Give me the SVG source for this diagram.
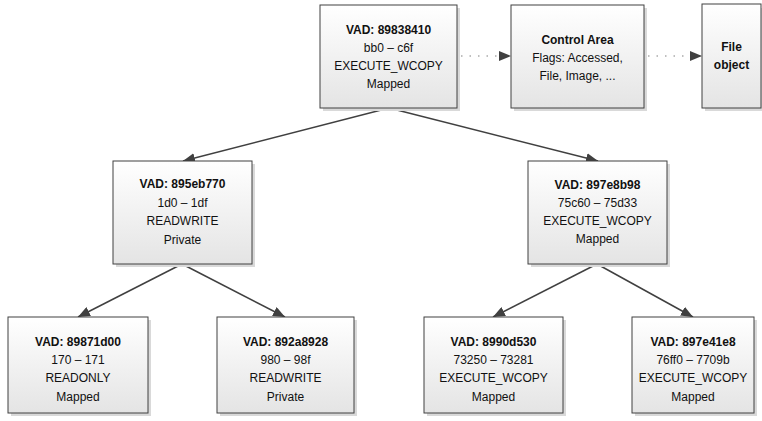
<svg xmlns="http://www.w3.org/2000/svg" width="762" height="421" viewBox="0 0 762 421">
<defs>
  <linearGradient id="g" x1="0" y1="0" x2="0" y2="1">
    <stop offset="0" stop-color="#ffffff"/>
    <stop offset="1" stop-color="#e4e4e4"/>
  </linearGradient>
  <marker id="ah" viewBox="0 0 12 10" refX="12" refY="5" markerWidth="12" markerHeight="10" markerUnits="userSpaceOnUse" orient="auto">
    <path d="M0,0 L12,5 L0,10 Z" fill="#404040"/>
  </marker>
  <style>
    .box{fill:url(#g);stroke:#404040;stroke-width:1}
    .sh{fill:#d9d9d9}
    text{font-family:"Liberation Sans",Arial,sans-serif;font-size:12px;fill:#111;text-anchor:middle}
    .b{font-weight:bold}
    .edge{stroke:#404040;stroke-width:1.5;fill:none;marker-end:url(#ah)}
    .dot{stroke:#808080;stroke-width:1.2;fill:none;stroke-dasharray:1.5 7;marker-end:url(#ah)}
  </style>
</defs>
<g id="connectors">
  <line class="edge" x1="389" y1="108" x2="183" y2="161"/>
  <line class="edge" x1="389" y1="108" x2="598" y2="161"/>
  <line class="edge" x1="182" y1="264" x2="78" y2="317"/>
  <line class="edge" x1="182" y1="264" x2="285" y2="317"/>
  <line class="edge" x1="597" y1="264" x2="493" y2="317"/>
  <line class="edge" x1="597" y1="264" x2="693" y2="317"/>
  <line class="dot" x1="461" y1="56" x2="511" y2="56"/>
  <line class="dot" x1="648" y1="56" x2="702" y2="56"/>
</g>
<g id="root">
  <rect class="sh" x="323" y="8" width="137" height="103"/>
  <rect class="box" x="320" y="5" width="137" height="103"/>
  <text x="388.5" y="34" class="b">VAD: 89838410</text>
  <text x="388.5" y="52">bb0 – c6f</text>
  <text x="388.5" y="70">EXECUTE_WCOPY</text>
  <text x="388.5" y="88">Mapped</text>
</g>
<g id="controlArea">
  <rect class="sh" x="514" y="8" width="133" height="103"/>
  <rect class="box" x="511" y="5" width="133" height="103"/>
  <text x="577.5" y="44" class="b">Control Area</text>
  <text x="577.5" y="62">Flags: Accessed,</text>
  <text x="577.5" y="80">File, Image, ...</text>
</g>
<g id="fileObject">
  <rect class="sh" x="705" y="8" width="60" height="103"/>
  <rect class="box" x="702" y="4" width="59" height="104"/>
  <text x="731.5" y="51" class="b">File</text>
  <text x="731.5" y="69" class="b">object</text>
</g>
<g id="vad895eb770">
  <rect class="sh" x="116" y="164" width="139" height="103"/>
  <rect class="box" x="113" y="161" width="139" height="103"/>
  <text x="182.5" y="188" class="b">VAD: 895eb770</text>
  <text x="182.5" y="207">1d0 – 1df</text>
  <text x="182.5" y="225">READWRITE</text>
  <text x="182.5" y="244">Private</text>
</g>
<g id="vad897e8b98">
  <rect class="sh" x="531" y="164" width="139" height="103"/>
  <rect class="box" x="528" y="161" width="139" height="103"/>
  <text x="597.5" y="189" class="b">VAD: 897e8b98</text>
  <text x="597.5" y="207">75c60 – 75d33</text>
  <text x="597.5" y="225">EXECUTE_WCOPY</text>
  <text x="597.5" y="243">Mapped</text>
</g>
<g id="vad89871d00">
  <rect class="sh" x="11" y="320" width="140" height="96"/>
  <rect class="box" x="8" y="317" width="140" height="96"/>
  <text x="78" y="346" class="b">VAD: 89871d00</text>
  <text x="78" y="364">170 – 171</text>
  <text x="78" y="382">READONLY</text>
  <text x="78" y="401">Mapped</text>
</g>
<g id="vad892a8928">
  <rect class="sh" x="220" y="320" width="137" height="96"/>
  <rect class="box" x="217" y="317" width="137" height="96"/>
  <text x="285.5" y="346" class="b">VAD: 892a8928</text>
  <text x="285.5" y="364">980 – 98f</text>
  <text x="285.5" y="382">READWRITE</text>
  <text x="285.5" y="401">Private</text>
</g>
<g id="vad8990d530">
  <rect class="sh" x="427" y="320" width="139" height="96"/>
  <rect class="box" x="424" y="317" width="139" height="96"/>
  <text x="493.5" y="346" class="b">VAD: 8990d530</text>
  <text x="493.5" y="364">73250 – 73281</text>
  <text x="493.5" y="382">EXECUTE_WCOPY</text>
  <text x="493.5" y="401">Mapped</text>
</g>
<g id="vad897e41e8">
  <rect class="sh" x="635" y="320" width="122" height="96"/>
  <rect class="box" x="632" y="317" width="122" height="96"/>
  <text x="693" y="346" class="b">VAD: 897e41e8</text>
  <text x="693" y="364">76ff0 – 7709b</text>
  <text x="693" y="382">EXECUTE_WCOPY</text>
  <text x="693" y="401">Mapped</text>
</g>
</svg>
